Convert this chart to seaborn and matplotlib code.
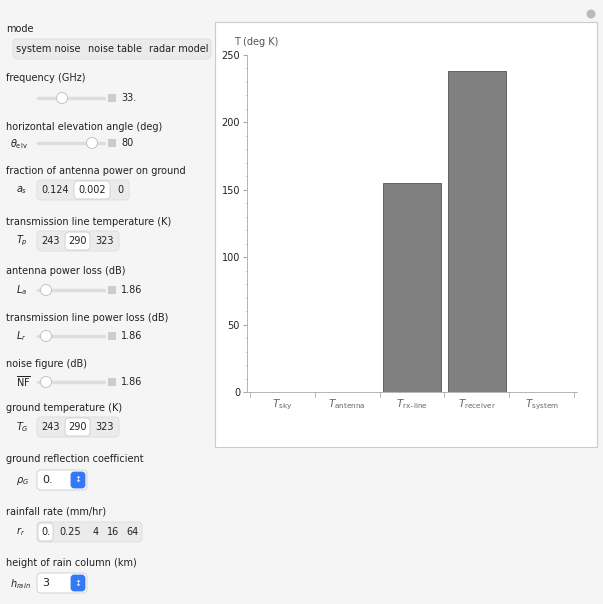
import matplotlib
matplotlib.use("Agg")
import matplotlib.pyplot as plt
from matplotlib.patches import FancyBboxPatch, Rectangle, Circle
import seaborn as sns
import pandas as pd

# --- data ---
categories = ["sky", "antenna", "rx\u2013line", "receiver", "system"]
temps = [0, 0, 155, 238, 0]
y_ticks = [0, 50, 100, 150, 200, 250]

sns.set_style("white")
plt.rcParams["font.family"] = ["DejaVu Sans"]

W, H = 603, 604
fig = plt.figure(figsize=(W / 100, H / 100), dpi=100)
fig.patch.set_facecolor("#f5f5f5")


def px(x, y):
    return x / W, 1 - y / H


def label(x, y, s, size=7, color="#222222", **kw):
    fig.text(*px(x, y), s, fontsize=size, va="center", color=color, zorder=5, **kw)


def box(x, y, w, h, fc="#ebebeb", ec="#dddddd", r=4):
    x0, y0 = px(x, y + h)
    fig.patches.append(FancyBboxPatch((x0, y0), w / W, h / H,
                                      boxstyle=f"round,pad=0,rounding_size={r / W}",
                                      transform=fig.transFigure, fc=fc, ec=ec, lw=0.6))


def slider(x0, x1, knob, y):
    fig.add_artist(plt.Line2D([x0 / W, x1 / W], [1 - y / H] * 2, color="#dddddd", lw=2.5,
                              transform=fig.transFigure, solid_capstyle="round", zorder=2))
    fig.patches.append(Circle(px(knob, y), 5.5 / W, transform=fig.transFigure,
                              fc="white", ec="#bbbbbb", lw=0.6, zorder=3))
    fig.patches.append(Rectangle(px(x1 + 4, y + 4), 8 / W, 8 / H,
                                 transform=fig.transFigure, fc="#cccccc", ec="none"))


def setter(x, y, items, sel, widths):
    box(x, y - 10, sum(widths), 20)
    cx = x
    for i, (s, w) in enumerate(zip(items, widths)):
        if i == sel:
            box(cx + 1, y - 9, w - 2, 18, fc="white", ec="#cccccc")
        label(cx + w / 2, y, s, ha="center")
        cx += w


def popup(x, y, s):
    box(x, y - 10, 50, 20, fc="white", ec="#cccccc")
    label(x + 5, y, s, size=8)
    box(x + 34, y - 8, 14, 16, fc="#3478f6", ec="#3478f6", r=3)
    label(x + 41, y, "\u2195", size=6, ha="center", color="white")


# control panel
label(6, 29, "mode")
setter(13, 49, ["system noise", "noise table", "radar model"], -1, [70, 64, 64])
label(6, 78, "frequency (GHz)")
slider(38, 104, 62, 98); label(121, 98, "33.")
label(6, 127, "horizontal elevation angle (deg)")
label(10, 144, r"$\theta_{\rm elv}$", size=7)
slider(38, 104, 92, 143); label(121, 143, "80")
label(6, 171, "fraction of antenna power on ground")
label(16, 190, r"$a_s$"); setter(37, 190, ["0.124", "0.002", "0"], 1, [36, 38, 18])
label(6, 222, "transmission line temperature (K)")
label(16, 241, r"$T_p$"); setter(37, 241, ["243", "290", "323"], 1, [27, 27, 28])
label(6, 271, "antenna power loss (dB)")
label(16, 290, r"$L_a$"); slider(38, 104, 46, 290); label(121, 290, "1.86")
label(6, 318, "transmission line power loss (dB)")
label(16, 336, r"$L_r$"); slider(38, 104, 46, 336); label(121, 336, "1.86")
label(6, 364, "noise figure (dB)")
label(16, 382, r"$\overline{\rm NF}$"); slider(38, 104, 46, 382); label(121, 382, "1.86")
label(6, 408, "ground temperature (K)")
label(16, 427, r"$T_G$"); setter(37, 427, ["243", "290", "323"], 1, [27, 27, 28])
label(6, 459, "ground reflection coefficient")
label(16, 481, r"$\rho_G$"); popup(37, 480, "0.")
label(6, 511, "rainfall rate (mm/hr)")
label(16, 532, r"$r_r$"); setter(37, 532, ["0.", "0.25", "4", "16", "64"], 0, [17, 33, 17, 19, 19])
label(6, 563, "height of rain column (km)")
label(10, 584, r"$h_{rain}$"); popup(37, 583, "3")

# white plot panel
x0, y0 = px(215, 447)
fig.patches.append(Rectangle((x0, y0), 382 / W, 425 / H, transform=fig.transFigure,
                             fc="white", ec="#cccccc", lw=0.8, zorder=-1))
fig.patches.append(Circle(px(591, 14), 4.5 / W, transform=fig.transFigure, fc="#bbbbbb", ec="none"))

# chart
ax = fig.add_axes([247 / W, 1 - 392 / H, 330 / W, 337 / H])
ax.patch.set_alpha(0)
df = pd.DataFrame({"cat": categories, "T": temps})
sns.barplot(data=df, x="cat", y="T", color="#808080", saturation=1, width=0.9,
            edgecolor="#555555", linewidth=0.6, ax=ax)
ax.set_xlim(-0.54, 4.54)
ax.set_ylim(0, 250)
ax.set_yticks(y_ticks)
ax.set_yticks(range(0, 251, 10), minor=True)
ax.set_yticklabels([str(v) for v in y_ticks], fontsize=7, color="#222222")
ax.set_xticks(range(len(categories)))
ax.set_xticklabels([rf"$T_{{\rm {c}}}$" for c in categories], fontsize=7.5, color="#666666")
ax.tick_params(axis="x", length=0, pad=4)
ax.tick_params(axis="y", which="major", length=3, color="#aaaaaa", pad=2, left=True)
ax.tick_params(axis="y", which="minor", length=1.5, color="#cccccc", left=True)
for b in [-0.5, 0.5, 1.5, 2.5, 3.5, 4.5]:
    ax.plot([b, b], [0, -4], color="#aaaaaa", lw=0.6, clip_on=False)
for s in ["top", "right"]:
    ax.spines[s].set_visible(False)
for s in ["left", "bottom"]:
    ax.spines[s].set_color("#aaaaaa")
    ax.spines[s].set_linewidth(0.6)
ax.set_xlabel("")
ax.set_ylabel("")
ax.text(-0.04, 1.03, "T (deg K)", transform=ax.transAxes, fontsize=7, color="#555555", ha="left")

fig.savefig("out.png", dpi=100)
